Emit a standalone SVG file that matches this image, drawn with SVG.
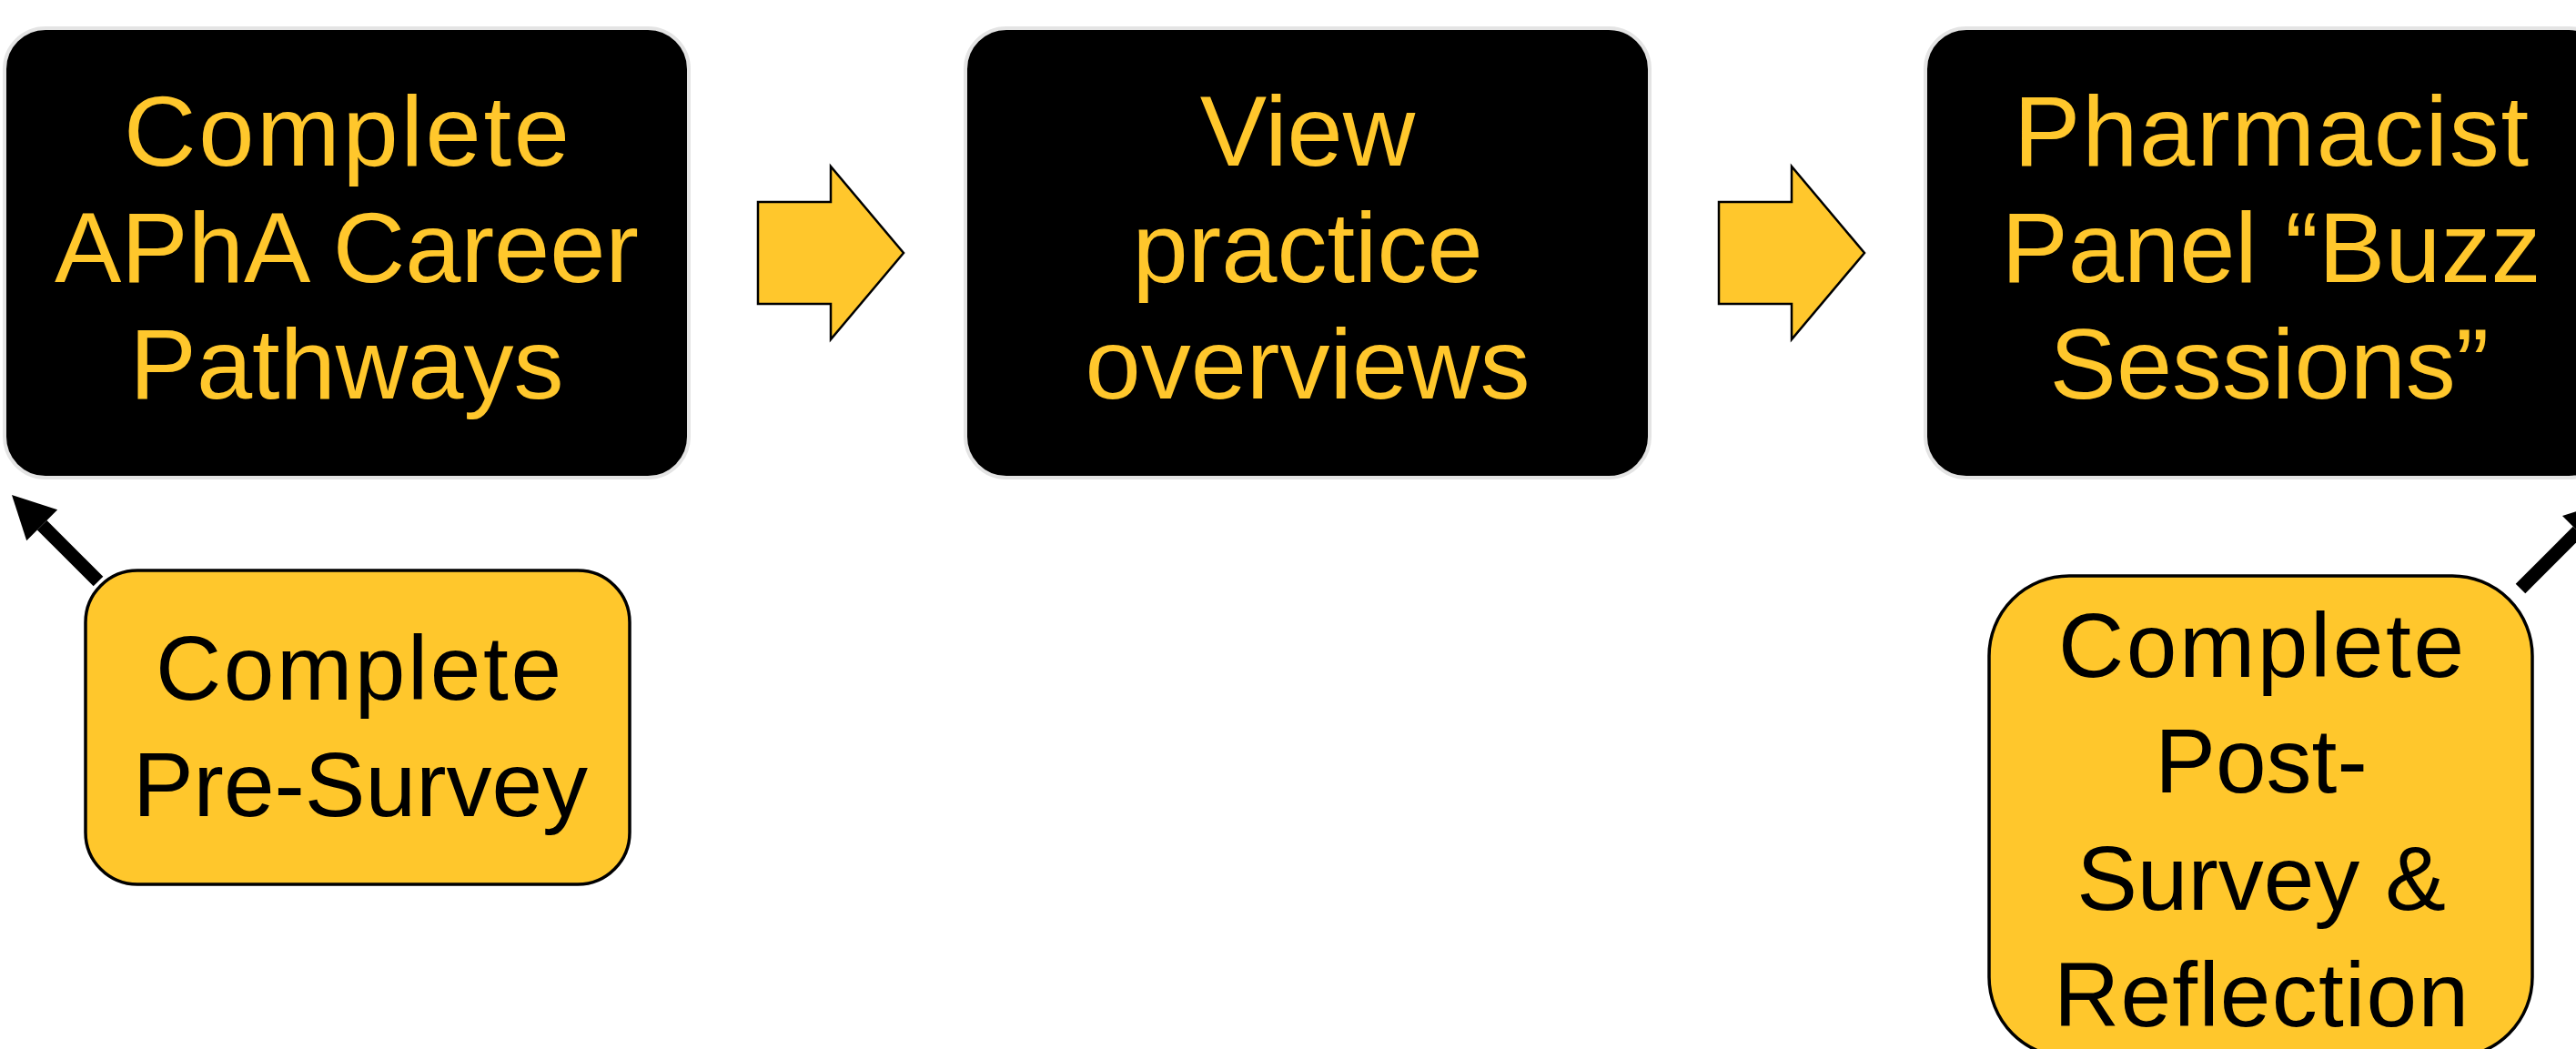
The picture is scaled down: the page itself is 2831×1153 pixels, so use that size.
<svg xmlns="http://www.w3.org/2000/svg" width="2831" height="1153" viewBox="0 0 2831 1153">
<style>
.step{fill:#000;stroke:#e4e4e4;stroke-width:4}
.side{fill:#FFC72C;stroke:#000;stroke-width:3.5}
.blk{fill:#FFC72C;stroke:#000;stroke-width:2.5;stroke-linejoin:miter}
.tb{font-family:"Liberation Sans",Arial,sans-serif;font-size:110px;fill:#FFC72C;text-anchor:middle}
.ts{font-family:"Liberation Sans",Arial,sans-serif;font-size:100px;fill:#000;text-anchor:middle}
.conn{stroke:#000;stroke-width:15;fill:none}
</style>
<defs>
<marker id="ah" markerUnits="userSpaceOnUse" markerWidth="50" markerHeight="50" viewBox="0 -25 48 50" refX="0" refY="0" orient="auto">
<path d="M0,-24 L47,0 L0,24 Z" fill="#000"/>
</marker>
</defs>
<rect width="2831" height="1153" fill="#fff"/>
<g id="node-career">
<rect class="step" x="5" y="31" width="752" height="494" rx="45"/>
<text class="tb" x="381" y="182" textLength="490">Complete</text>
<text class="tb" x="381" y="310">APhA Career</text>
<text class="tb" x="381" y="438">Pathways</text>
</g>
<g id="node-overviews">
<rect class="step" x="1061" y="31" width="752" height="494" rx="45"/>
<text class="tb" x="1437" y="182">View</text>
<text class="tb" x="1437" y="310">practice</text>
<text class="tb" x="1437" y="438">overviews</text>
</g>
<g id="node-panel">
<rect class="step" x="2116" y="31" width="752" height="494" rx="45"/>
<text class="tb" x="2496" y="182" textLength="566">Pharmacist</text>
<text class="tb" x="2496" y="310">Panel “Buzz</text>
<text class="tb" x="2494" y="438">Sessions”</text>
</g>
<g id="node-presurvey">
<rect class="side" x="94" y="627" width="598" height="345" rx="57"/>
<text class="ts" x="394" y="769" textLength="446">Complete</text>
<text class="ts" x="396" y="897">Pre-Survey</text>
</g>
<g id="node-postsurvey">
<rect class="side" x="2186" y="633" width="597" height="529" rx="88"/>
<text class="ts" x="2485" y="744" textLength="446">Complete</text>
<text class="ts" x="2485" y="871">Post-</text>
<text class="ts" x="2485" y="1000">Survey &amp;</text>
<text class="ts" x="2485" y="1128" textLength="456">Reflection</text>
</g>
<g id="connectors">
<polygon class="blk" points="833,222 913,222 913,183 993,278 913,373 913,334 833,334"/>
<polygon class="blk" points="1889,222 1969,222 1969,183 2049,278 1969,373 1969,334 1889,334"/>
<line class="conn" x1="108" y1="639" x2="46.2" y2="577.2" marker-end="url(#ah)"/>
<line class="conn" x1="2770" y1="647" x2="2833" y2="584" marker-end="url(#ah)"/>
</g>
</svg>
